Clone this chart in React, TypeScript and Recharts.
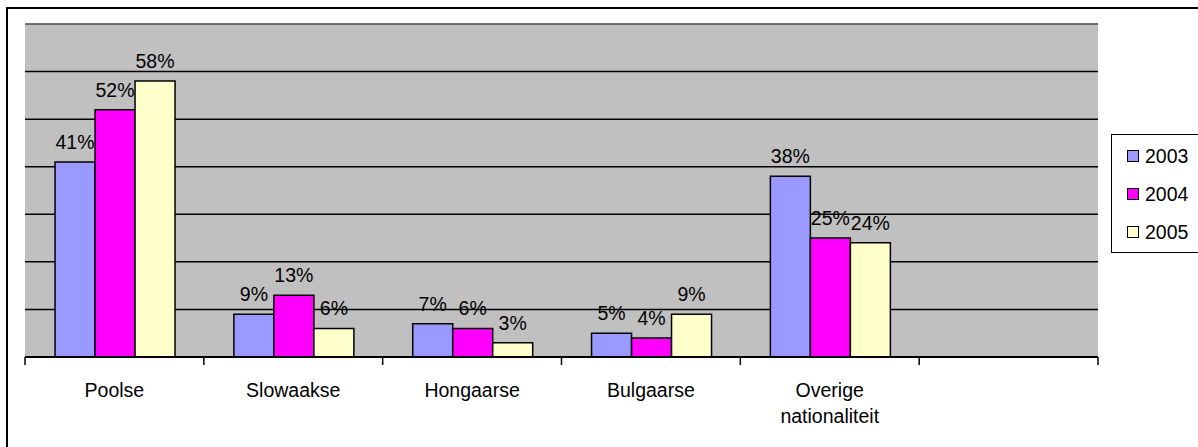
import React from 'react';
import { BarChart, Bar, XAxis, YAxis, CartesianGrid, Legend, LabelList, ReferenceLine } from 'recharts';

const categories = ['Poolse', 'Slowaakse', 'Hongaarse', 'Bulgaarse', 'Overige nationaliteit', ''];
const values2003 = [41, 9, 7, 5, 38, null];
const values2004 = [52, 13, 6, 4, 25, null];
const values2005 = [58, 6, 3, 9, 24, null];
const yTicks = [0, 10, 20, 30, 40, 50, 60, 70];
const seriesNames = ['2003', '2004', '2005'];
const seriesColors = ['#9999FF', '#FF00FF', '#FFFFCC'];

const data = categories.map((c, i) => ({
  name: c,
  v2003: values2003[i],
  v2004: values2004[i],
  v2005: values2005[i],
}));

const FONT = '"Liberation Sans", Arial, sans-serif';

const CategoryTick = (props: any) => {
  const { x, y, payload, index, visibleTicksCount } = props;
  const half = payload && payload.offset ? payload.offset : 0;
  const lines = String(payload.value).split(' ').filter((s) => s.length > 0);
  return (
    <g>
      <line x1={x - half} x2={x - half} y1={y} y2={y + 8} stroke="#000" strokeWidth={1.5} />
      {index === visibleTicksCount - 1 && (
        <line x1={x + half} x2={x + half} y1={y} y2={y + 8} stroke="#000" strokeWidth={1.5} />
      )}
      <text x={x} y={y + 40} textAnchor="middle" fontSize={19.5} fill="#000" style={{ fontFamily: FONT }}>
        {lines.map((l, i) => (
          <tspan key={i} x={x} dy={i === 0 ? 0 : 26}>
            {l}
          </tspan>
        ))}
      </text>
    </g>
  );
};

const LegendBox = (props: any) => {
  const payload = props.payload || [];
  return (
    <div
      style={{
        width: 110,
        height: 119,
        boxSizing: 'border-box',
        border: '1.5px solid #000',
        background: '#fff',
        position: 'relative',
        fontFamily: FONT,
      }}
    >
      {payload.map((p: any, i: number) => (
        <div
          key={i}
          style={{
            position: 'absolute',
            left: 15,
            top: 9 + i * 38,
            height: 24,
            display: 'flex',
            alignItems: 'center',
          }}
        >
          <span
            style={{
              display: 'inline-block',
              width: 12,
              height: 12,
              boxSizing: 'border-box',
              border: '1.5px solid #000',
              background: p.color,
              marginRight: 6,
            }}
          />
          <span style={{ fontSize: 19.5, color: '#000', lineHeight: '24px' }}>{p.value}</span>
        </div>
      ))}
    </div>
  );
};

const fmt = (v: any) => (v === null || v === undefined ? '' : `${v}%`);
const noLabel = () => '';

export default function App() {
  return (
    <div
      style={{
        position: 'fixed',
        left: 0,
        top: 0,
        width: 1198,
        height: 447,
        overflow: 'hidden',
        fontFamily: FONT,
        background: '#fff',
      }}
    >
      <div
        style={{
          position: 'absolute',
          left: 6,
          top: 7,
          width: 1400,
          height: 600,
          border: '2px solid #000',
          boxSizing: 'border-box',
        }}
      />
      <div style={{ position: 'absolute', left: 0, top: 0 }}>
        <BarChart
          width={1198}
          height={447}
          data={data}
          margin={{ top: 24, right: 100, left: 25, bottom: 30 }}
          barCategoryGap="16.8%"
          barGap={0}
        >
          <CartesianGrid
            vertical={false}
            horizontalValues={yTicks}
            stroke="#000"
            strokeWidth={1.5}
            fill="#C0C0C0"
            fillOpacity={1}
          />
          <XAxis
            dataKey="name"
            interval={0}
            height={60}
            tickSize={0}
            tickMargin={0}
            tickLine={false}
            tick={<CategoryTick />}
            axisLine={{ stroke: '#000', strokeWidth: 2 }}
          />
          <YAxis
            domain={[0, 70]}
            ticks={yTicks}
            width={0}
            tickSize={0}
            tickFormatter={noLabel}
            tickLine={false}
            axisLine={{ stroke: '#000', strokeWidth: 1.5 }}
          />
          <YAxis
            yAxisId="r"
            orientation="right"
            domain={[0, 70]}
            ticks={yTicks}
            width={0}
            tickSize={0}
            tickFormatter={noLabel}
            tickLine={false}
            axisLine={{ stroke: '#808080', strokeWidth: 1.5 }}
          />
          <ReferenceLine y={70} stroke="#808080" strokeWidth={1.5} />
          <Legend
            layout="vertical"
            align="center"
            verticalAlign="middle"
            content={<LegendBox />}
            wrapperStyle={{ position: 'absolute', left: 1111, top: 134, width: 110, height: 119 }}
          />
          {['v2003', 'v2004', 'v2005'].map((k, i) => (
            <Bar
              key={k}
              dataKey={k}
              name={seriesNames[i]}
              fill={seriesColors[i]}
              stroke="#000"
              strokeWidth={1.5}
              isAnimationActive={false}
            >
              <LabelList
                dataKey={k}
                position="top"
                offset={13}
                formatter={fmt}
                fill="#000"
                fontSize={19.5}
                style={{ fontFamily: FONT }}
              />
            </Bar>
          ))}
        </BarChart>
      </div>
    </div>
  );
}
